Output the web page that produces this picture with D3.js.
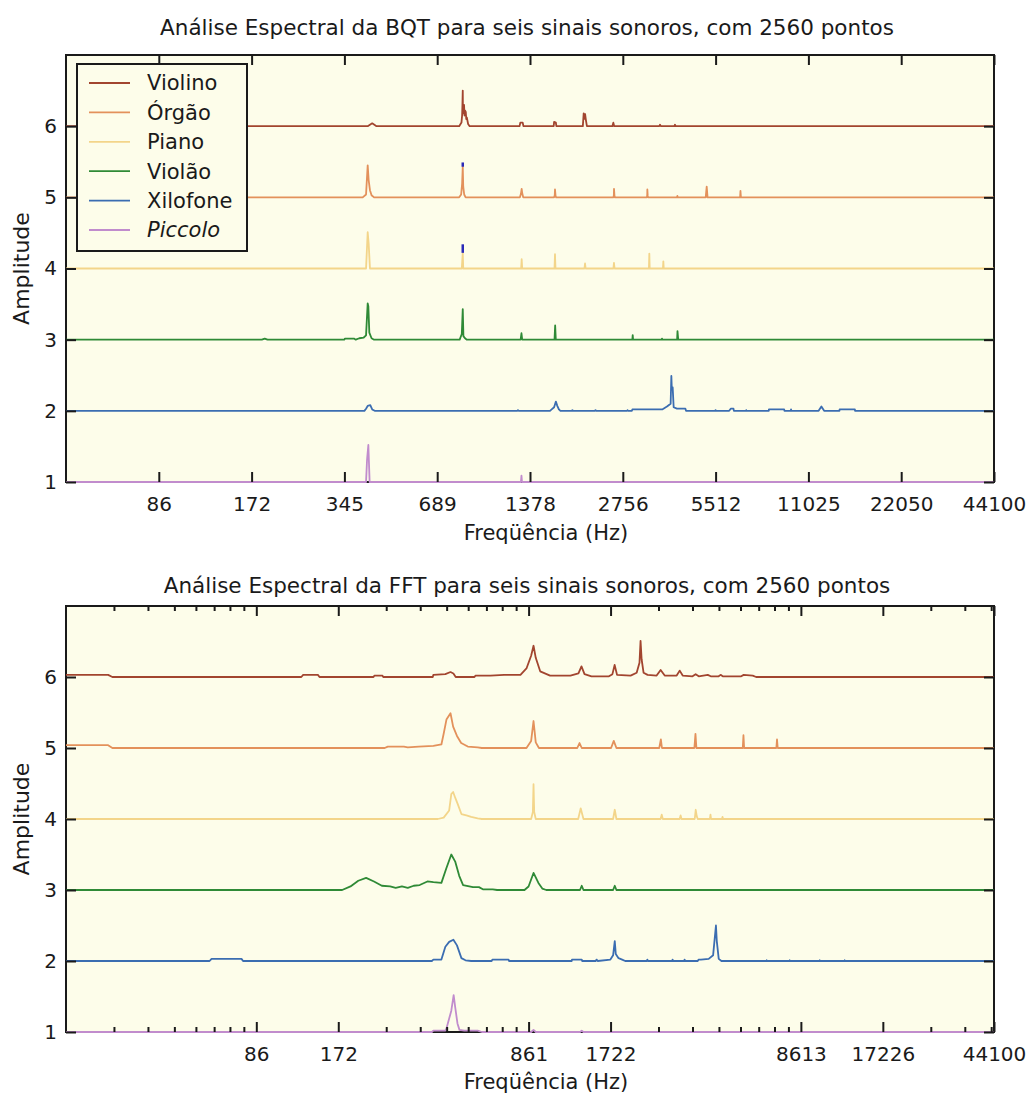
<!DOCTYPE html>
<html>
<head>
<meta charset="utf-8">
<script src="https://cdn.jsdelivr.net/npm/d3@7"></script>
<style>
  body { margin: 0; background: #fff; }
  text { font-family: "DejaVu Sans", sans-serif; fill: #1a1a1a; }
</style>
</head>
<body>
<div id="chart"></div>
<script>
// Instruments, in legend order, and the baseline each one is drawn on
const instrumentos = ['Violino', 'Órgão', 'Piano', 'Violão', 'Xilofone', 'Piccolo']
const offsets = [6, 5, 4, 3, 2, 1]

// BQT spectra: [frequency (Hz), amplitude above the baseline]
const bqtViolino = [[43.07,0],[410,0],[424,0.04],[438,0],
  [812,0],[826,0.05],[830,0.15],[832,0.3],[834,0.5],[835,0.22],[837,0.3],[839,0.18],[842,0.3],[845,0.15],[848,0.22],[853,0.2],[856,0.1],[860,0.12],[868,0.03],[878,0],
  [1275,0],[1282,0.05],[1305,0.05],[1312,0],[1645,0],[1650,0.06],[1672,0.05],[1678,0],
  [2045,0],[2058,0.18],[2063,0.1],[2068,0.15],[2080,0.17],[2090,0.1],[2095,0.07],[2108,0],
  [2550,0],[2568,0.05],[2585,0],[3620,0],[3640,0.02],[3660,0],[4050,0],[4070,0.02],[4090,0],[44100,0]]
const bqtOrgao = [[43.07,0],[395,0],[405,0.04],[410,0.45],[413,0.24],[417,0.1],[422,0.03],[430,0],
  [812,0],[824,0.04],[830,0.19],[834,0.43],[837,0.15],[843,0.04],[852,0],
  [1278,0],[1288,0.05],[1295,0.12],[1300,0.06],[1310,0],[1650,0],[1658,0.03],[1661,0.11],[1668,0.02],[1675,0],
  [2570,0],[2578,0.03],[2581,0.12],[2590,0.02],[2600,0],[3300,0],[3308,0.03],[3311,0.11],[3320,0.02],[3330,0],
  [4130,0],[4143,0.02],[4156,0],[5120,0],[5140,0.08],[5158,0.15],[5170,0.1],[5190,0],
  [6620,0],[6637,0.09],[6660,0],[44100,0]]
const bqtPiano = [[43.07,0],[405,0],[410,0.51],[413,0.35],[417,0],[828,0],[834,0.22],[837,0],
  [1290,0],[1295,0.13],[1300,0],[1655,0],[1661,0.2],[1667,0],[2070,0],[2079,0.07],[2088,0],
  [2570,0],[2580,0.08],[2592,0],[3350,0],[3360,0.21],[3370,0],[3720,0],[3731,0.1],[3742,0],[44100,0]]
const bqtViolao = [[43.07,0],[186,0],[190,0.015],[194,0],
  [344,0],[346,0.015],[370,0.015],[375,0],[385,0.02],[398,0.03],[405,0.06],[410,0.51],[412,0.47],[415,0.1],[422,0.02],[430,0],
  [815,0],[828,0.08],[834,0.43],[838,0.05],[848,0.02],[860,0],
  [1285,0],[1293,0.09],[1300,0],[1655,0],[1663,0.2],[1671,0],[2960,0],[2968,0.065],[2976,0],
  [3685,0],[3694,0.015],[3703,0],[4135,0],[4147,0.12],[4160,0.05],[4170,0],[44100,0]]
const bqtXilofone = [[43.07,0],[400,0],[405,0.03],[410,0.07],[418,0.08],[424,0.02],[432,0],
  [1255,0],[1260,0.01],[1265,0],[1600,0],[1620,0.02],[1650,0.05],[1672,0.13],[1690,0.07],[1710,0.02],[1730,0],
  [1885,0],[1892,0.01],[1900,0],[2240,0],[2248,0.01],[2256,0],[2845,0],[2855,0.01],[2865,0],
  [2950,0],[2960,0.02],[3700,0.02],[3834,0.06],[3940,0.1],[3961,0.49],[3975,0.3],[4000,0.33],[4030,0.05],[4130,0.03],[4400,0.03],[4420,0],
  [5500,0],[5510,0.01],[5530,0],[6100,0],[6173,0.03],[6300,0.03],[6320,0],[6920,0],[6930,0.01],[6945,0],
  [8200,0],[8210,0.02],[9200,0.02],[9220,0],[9670,0],[9684,0.02],[9700,0],
  [11900,0],[12150,0.06],[12400,0],[13900,0],[13920,0.02],[15600,0.02],[15620,0],[44100,0]]
const bqtPiccolo = [[43.07,0],[405,0],[408,0.31],[412,0.52],[416,0],[1288,0],[1293,0.09],[1298,0],[44100,0]]

// Blue marks on top of the BQT peaks: [frequency, from, to]
const bqtMarcas = [[834, 5.43, 5.49], [834, 4.22, 4.34]]

// FFT spectra: [frequency (Hz), amplitude above the baseline]
const fftViolino = [[17.23,0.03],[24.6,0.03],[25.5,0],[126,0],[128,0.03],[145,0.03],[147,0],
  [232,0],[234,0.02],[250,0.02],[252,0],[383,0],[385,0.03],[426,0.04],[445,0.07],[456,0.05],[465,0],
  [545,0],[550,0.02],[624,0.02],[700,0.03],[804,0.03],[846,0.12],[880,0.3],[898,0.44],[915,0.27],[950,0.08],[1033,0.02],
  [1227,0.02],[1313,0.05],[1347,0.15],[1382,0.04],[1466,0.01],[1700,0.01],[1750,0.04],[1783,0.17],[1820,0.03],
  [2041,0.02],[2148,0.06],[2200,0.2],[2220,0.51],[2240,0.25],[2277,0.06],[2356,0.03],[2543,0.02],[2631,0.1],[2723,0.02],
  [3013,0.02],[3091,0.09],[3170,0.02],[3445,0.01],[3537,0.04],[3631,0.01],[3919,0.03],[4019,0.01],
  [4298,0.01],[4368,0.03],[4447,0.01],[5200,0.01],[5311,0.03],[5731,0.02],[5900,0],[44100,0]]
const fftOrgao = [[17.23,0.04],[24.6,0.04],[25.5,0],[255,0],[262,0.02],[300,0.02],[310,0.01],[340,0.02],
  [385,0.03],[412,0.05],[420,0.2],[430,0.4],[445,0.49],[455,0.3],[470,0.17],[487,0.07],[515,0.02],[560,0.01],[580,0],
  [846,0],[880,0.1],[898,0.38],[915,0.08],[940,0],[1300,0],[1325,0.07],[1350,0],[1730,0],[1770,0.1],[1810,0],
  [2600,0],[2636,0.12],[2660,0],[3500,0],[3532,0.2],[3560,0],[5270,0],[5300,0.18],[5330,0],
  [7000,0],[7039,0.12],[7080,0],[44100,0]]
const fftPiano = [[17.23,0],[400,0],[420,0.02],[440,0.12],[448,0.35],[455,0.38],[463,0.3],[472,0.22],[488,0.07],
  [509,0.05],[530,0.03],[560,0.01],[580,0],[880,0],[893,0.1],[898,0.49],[903,0.1],[915,0],
  [1310,0],[1338,0.15],[1370,0],[1760,0],[1785,0.13],[1810,0],[2630,0],[2655,0.06],[2680,0],
  [3090,0],[3115,0.05],[3140,0],[3510,0],[3540,0.13],[3570,0.04],[3600,0],[3990,0],[4010,0.06],[4030,0],
  [4420,0],[4440,0.03],[4460,0],[44100,0]]
const fftViolao = [[17.23,0],[178,0],[191,0.05],[204,0.13],[218,0.17],[233,0.12],[249,0.06],[267,0.05],[280,0.03],
  [295,0.05],[310,0.03],[326,0.06],[343,0.07],[366,0.12],[385,0.11],[412,0.1],[429,0.3],[448,0.5],[463,0.4],
  [479,0.2],[495,0.07],[538,0.04],[566,0.04],[585,0.01],[636,0.01],[660,0],[832,0],[861,0.05],[898,0.24],
  [936,0.1],[967,0.02],[1000,0],[1330,0],[1350,0.06],[1370,0],[1760,0],[1785,0.06],[1810,0],[44100,0]]
const fftXilofone = [[17.23,0],[58,0],[59,0.03],[76,0.03],[77,0],[380,0],[385,0.02],[412,0.02],[426,0.2],[440,0.27],
  [456,0.3],[470,0.22],[488,0.04],[505,0.01],[530,0],[630,0],[634,0.02],[727,0.02],[730,0],
  [1240,0],[1243,0.02],[1350,0.02],[1355,0],[1520,0],[1531,0.02],[1545,0],
  [1720,0.02],[1760,0.08],[1785,0.28],[1800,0.1],[1843,0.04],[1900,0.02],[1950,0],
  [2340,0],[2351,0.02],[2365,0],[2900,0],[2911,0.02],[2925,0],[3210,0],[3222,0.02],[3235,0],
  [3600,0],[3629,0.02],[3700,0.02],[3950,0.03],[4100,0.08],[4200,0.5],[4230,0.28],[4300,0.03],[4400,0],
  [6440,0],[6453,0.01],[6470,0],[7820,0],[7838,0.01],[7860,0],[10090,0],[10106,0.01],[10120,0],
  [12460,0],[12478,0.01],[12500,0],[44100,0]]
const fftPiccolo = [[17.23,0],[380,0],[385,0.02],[426,0.02],[430,0.05],[448,0.3],[457,0.52],[463,0.35],[472,0.12],
  [480,0.03],[500,0.02],[560,0.02],[580,0],[880,0],[898,0.03],[915,0],[1330,0],[1350,0.02],[1370,0],[44100,0]]

const bqtSeries = [bqtViolino, bqtOrgao, bqtPiano, bqtViolao, bqtXilofone, bqtPiccolo]
const fftSeries = [fftViolino, fftOrgao, fftPiano, fftViolao, fftXilofone, fftPiccolo]

// Axis ticks
const yTicks = [1, 2, 3, 4, 5, 6]
const bqtTicks = [86.13, 172.27, 344.53, 689.06, 1378.1, 2756.3, 5512.5, 11025, 22050, 44100]
const bqtTickLabels = ['86', '172', '345', '689', '1378', '2756', '5512', '11025', '22050', '44100']
const fftTicks = [86.13, 172.27, 861.33, 1722.7, 8613.3, 17226, 44100]
const fftTickLabels = ['86', '172', '861', '1722', '8613', '17226', '44100']
const fftMinorTicks = [25.84, 34.45, 43.07, 51.68, 60.29, 68.91, 77.52, 258.4, 344.5, 430.7, 516.8, 602.9, 689.1, 775.2,
  2584, 3445, 4307, 5168, 6029, 6891, 7752, 25840, 34453, 43066]

const cores = ['#a2452f', '#e3915b', '#f3d58a', '#2f8a36', '#3b6db1', '#c18ccd']

const width = 1029, height = 1095

let svg = d3.select('#chart').append('svg')
  .attr('width', width)
  .attr('height', height)

function drawPanel(cfg) {
  let x = d3.scaleLog().base(2).domain(cfg.xDomain).range([66, 994])
  let y = d3.scaleLinear().domain([1, 7]).range([cfg.bottom, cfg.top])
  let g = svg.append('g')

  // Title
  g.append('text')
    .attr('x', 527).attr('y', cfg.titleY)
    .attr('text-anchor', 'middle')
    .style('font-size', '21.5px')
    .text(cfg.title)

  // Plot background
  g.append('rect')
    .attr('x', 66).attr('y', cfg.top)
    .attr('width', 928).attr('height', cfg.bottom - cfg.top)
    .attr('fill', '#fdfdea')
    .attr('stroke', '#1a1a1a')
    .attr('stroke-width', 2)

  // Spectra
  let line = d3.line()
  cfg.series.forEach((s, i) => {
    line.x(d => x(d[0])).y(d => y(offsets[i] + d[1]))
    g.append('path')
      .attr('d', line(s))
      .attr('fill', 'none')
      .attr('stroke', cores[i])
      .attr('stroke-width', 1.8)
      .attr('stroke-linejoin', 'round')
  })

  // Blue marks
  g.selectAll('.marca')
    .data(cfg.marcas || [])
    .join('line')
    .attr('x1', d => x(d[0])).attr('x2', d => x(d[0]))
    .attr('y1', d => y(d[1])).attr('y2', d => y(d[2]))
    .attr('stroke', '#2a2ab8')
    .attr('stroke-width', 2.5)

  // Axes (ticks point inward)
  let fmt = (d, i) => cfg.tickLabels[i]
  let xb = g.append('g').attr('transform', `translate(0,${cfg.bottom})`)
    .call(d3.axisBottom(x).tickValues(cfg.ticks).tickFormat(fmt).tickSize(-10).tickPadding(15))
  let xt = g.append('g').attr('transform', `translate(0,${cfg.top})`)
    .call(d3.axisTop(x).tickValues(cfg.ticks).tickFormat('').tickSize(-10))
  let yl = g.append('g').attr('transform', 'translate(66,0)')
    .call(d3.axisLeft(y).tickValues(yTicks).tickFormat(d3.format('d')).tickSize(-10).tickPadding(9))
  let yr = g.append('g').attr('transform', 'translate(994,0)')
    .call(d3.axisRight(y).tickValues(yTicks).tickFormat('').tickSize(-10))
  let axes = [xb, xt, yl, yr]

  // Minor ticks
  if (cfg.minor) {
    axes.push(g.append('g').attr('transform', `translate(0,${cfg.bottom})`)
      .call(d3.axisBottom(x).tickValues(cfg.minor).tickFormat('').tickSize(-5)))
    axes.push(g.append('g').attr('transform', `translate(0,${cfg.top})`)
      .call(d3.axisTop(x).tickValues(cfg.minor).tickFormat('').tickSize(-5)))
  }

  axes.forEach(a => {
    a.select('.domain').remove()
    a.selectAll('line').attr('stroke', '#1a1a1a').attr('stroke-width', 2)
    a.selectAll('text').style('font-size', '20px').attr('fill', '#1a1a1a')
      .style('font-family', '"DejaVu Sans", sans-serif')
  })

  // Axis labels
  g.append('text')
    .attr('x', 546).attr('y', cfg.xlabelY)
    .attr('text-anchor', 'middle')
    .style('font-size', '21px')
    .text('Freqüência (Hz)')

  g.append('text')
    .attr('transform', `translate(29,${(cfg.top + cfg.bottom) / 2}) rotate(-90)`)
    .attr('text-anchor', 'middle')
    .style('font-size', '22px')
    .text('Amplitude')
}

function drawLegend() {
  let lg = svg.append('g')

  lg.append('rect')
    .attr('x', 77).attr('y', 64)
    .attr('width', 170).attr('height', 187)
    .attr('fill', '#fdfdea')
    .attr('stroke', '#1a1a1a')
    .attr('stroke-width', 2)

  let item = lg.selectAll('.item')
    .data(instrumentos)
    .join('g')
    .attr('transform', (d, i) => `translate(0,${83 + i * 29.4})`)

  item.append('line')
    .attr('x1', 89).attr('x2', 130)
    .attr('stroke', (d, i) => cores[i])
    .attr('stroke-width', 1.8)

  item.append('text')
    .attr('x', 147).attr('dy', '0.35em')
    .style('font-size', '21px')
    .style('font-style', d => d === 'Piccolo' ? 'italic' : 'normal')
    .text(d => d)
}

drawPanel({
  title: 'Análise Espectral da BQT para seis sinais sonoros, com 2560 pontos',
  titleY: 35, top: 55, bottom: 482, xlabelY: 540,
  xDomain: [44100 / 1024, 44100],
  series: bqtSeries, marcas: bqtMarcas,
  ticks: bqtTicks, tickLabels: bqtTickLabels
})

drawPanel({
  title: 'Análise Espectral da FFT para seis sinais sonoros, com 2560 pontos',
  titleY: 593, top: 606, bottom: 1032, xlabelY: 1089,
  xDomain: [44100 / 2560, 44100],
  series: fftSeries,
  ticks: fftTicks, tickLabels: fftTickLabels, minor: fftMinorTicks
})

drawLegend()
</script>
</body>
</html>
